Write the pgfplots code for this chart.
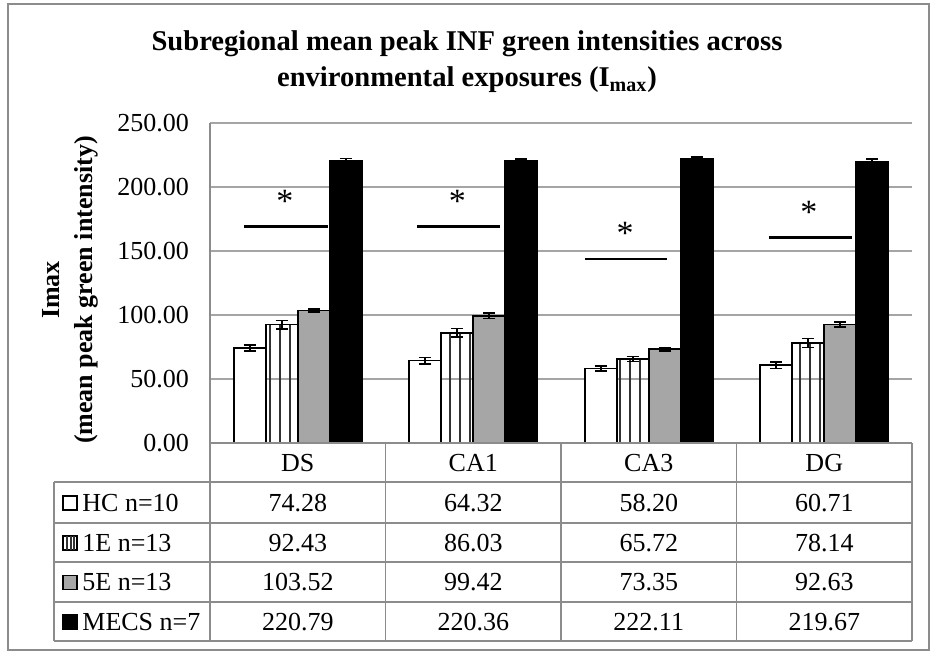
\documentclass[border=0pt]{standalone}
\usepackage{pgfplots}
\pgfplotsset{compat=1.18}
\usepackage{pgfplotstable}
\usepackage{fontspec}
\setmainfont{Liberation Serif}
\usetikzlibrary{patterns.meta}
\definecolor{gridgray}{RGB}{165,165,165}
\definecolor{framegray}{RGB}{140,140,140}
\definecolor{barfill}{RGB}{166,166,166}
\definecolor{stripe}{RGB}{50,50,50}

\pgfplotstableread{
x HC HCe Ea Eae Eb Ebe M Me
0 74.28 2.3 92.43 3.2 103.52 1.4 220.79 1.5
1 64.32 2.5 86.03 3.4 99.42 2.0 220.36 1.6
2 58.20 1.8 65.72 2.0 73.35 1.3 222.11 1.4
3 60.71 2.4 78.14 3.5 92.63 2.0 219.67 2.0
}\data

\pgfplotsset{ebar/.style={error bars/.cd, y dir=both, y explicit,
  error bar style={black, line width=0.8pt},
  error mark options={black, rotate=90, mark size=3pt, line width=0.8pt}}}

\begin{document}
\begin{tikzpicture}
\begin{scope}[x=0.5pt,y=-0.5pt]
\path[use as bounding box] (0,0) rectangle (933,653);
\draw[framegray, line width=0.75pt] (8,4) rectangle (929,650);
\node[align=center, font=\fontsize{14.3}{18}\selectfont\bfseries] at (467,62)
  {Subregional mean peak INF green intensities across\\environmental exposures (I\textsubscript{max})};
\node[rotate=90, align=center, font=\fontsize{13}{16.5}\selectfont\bfseries] at (70,290)
  {Imax\\(mean peak green intensity)};
\end{scope}
\begin{axis}[at={(105pt,-221.5pt)}, anchor=south west, scale only axis,
  width=351pt, height=160pt,
  xmin=-0.5, xmax=3.5, ymin=0, ymax=250,
  ytick={0,50,...,250}, xtick=\empty,
  axis line style={draw=none}, major tick length=0pt,
  ymajorgrids, grid style={gridgray, line width=0.75pt},
  yticklabel style={/pgf/number format/fixed, /pgf/number format/fixed zerofill,
    /pgf/number format/precision=2, font=\fontsize{13}{15}\selectfont, xshift=-7pt},
  /pgf/number format/assume math mode=true,
  clip=false]
\addplot[ybar, bar width=16pt, bar shift=0pt, fill=white, draw=black, line width=0.8pt, ebar]
  table[x expr=\thisrow{x}-0.2735, y=HC, y error=HCe]{\data};
\addplot[ybar, bar width=16pt, bar shift=0pt, draw=black, line width=0.8pt,
  pattern={Lines[angle=90, distance=5pt, line width=1.3pt]}, pattern color=stripe, ebar]
  table[x expr=\thisrow{x}-0.0912, y=Ea, y error=Eae]{\data};
\addplot[ybar, bar width=16pt, bar shift=0pt, fill=barfill, draw=black, line width=0.8pt, ebar]
  table[x expr=\thisrow{x}+0.0912, y=Eb, y error=Ebe]{\data};
\addplot[ybar, bar width=16pt, bar shift=0pt, fill=black, draw=black, line width=0.8pt, ebar]
  table[x expr=\thisrow{x}+0.2735, y=M, y error=Me]{\data};
% significance lines
\addplot[black, line width=1.2pt, no markers, forget plot] coordinates {(-0.306,169) (0.172,169)};
\addplot[black, line width=1.2pt, no markers, forget plot] coordinates {(0.68,169) (1.152,169)};
\addplot[black, line width=1.2pt, no markers, forget plot] coordinates {(1.637,143.8) (2.104,143.8)};
\addplot[black, line width=1.2pt, no markers, forget plot] coordinates {(2.685,160.4) (3.158,160.4)};
\node[font=\fontsize{17}{19}\selectfont] at (axis cs:-0.073,189) {*};
\node[font=\fontsize{17}{19}\selectfont] at (axis cs:0.91,189) {*};
\node[font=\fontsize{17}{19}\selectfont] at (axis cs:1.865,164) {*};
\node[font=\fontsize{17}{19}\selectfont] at (axis cs:2.913,180) {*};
\end{axis}
\begin{scope}[x=0.5pt,y=-0.5pt]
\draw[framegray, line width=0.75pt] (210,123) -- (210,641);
\draw[framegray, line width=0.75pt] (210,443) -- (912,443);
\foreach \yy in {482,523,562,602,641} \draw[framegray, line width=0.75pt] (54,\yy) -- (912,\yy);
\draw[framegray, line width=0.75pt] (54,482) -- (54,641);
\foreach \xx in {385.5,561,736.5,912} \draw[framegray, line width=0.75pt] (\xx,443) -- (\xx,641);
\begin{scope}[every node/.style={font=\fontsize{13}{15}\selectfont}]
\foreach \lab [count=\i from 0] in {DS,CA1,CA3,DG}
  \node at (297.75+175.5*\i,463) {\lab};
\foreach \v [count=\i from 0] in {74.28,64.32,58.20,60.71}
  \node at (297.75+175.5*\i,503) {\v};
\foreach \v [count=\i from 0] in {92.43,86.03,65.72,78.14}
  \node at (297.75+175.5*\i,543) {\v};
\foreach \v [count=\i from 0] in {103.52,99.42,73.35,92.63}
  \node at (297.75+175.5*\i,582.5) {\v};
\foreach \v [count=\i from 0] in {220.79,220.36,222.11,219.67}
  \node at (297.75+175.5*\i,622) {\v};
\node[anchor=west, inner sep=0pt] at (82,503) {HC n=10};
\node[anchor=west, inner sep=0pt] at (82,543) {1E n=13};
\node[anchor=west, inner sep=0pt] at (82,582.5) {5E n=13};
\node[anchor=west, inner sep=0pt] at (82,622) {MECS n=7};
\end{scope}
% legend keys
\draw[black, line width=0.6pt, fill=white] (63,496) rectangle (77,510);
\draw[black, line width=0.6pt, fill=white] (63,536) rectangle (77,550);
\draw[stripe, line width=1pt] (67,536) -- (67,550) (71,536) -- (71,550) (74,536) -- (74,550);
\draw[black, line width=0.6pt, fill=barfill] (63,575.5) rectangle (77,589.5);
\draw[black, line width=0.6pt, fill=black] (63,615) rectangle (77,629);
\end{scope}
\end{tikzpicture}
\end{document}
